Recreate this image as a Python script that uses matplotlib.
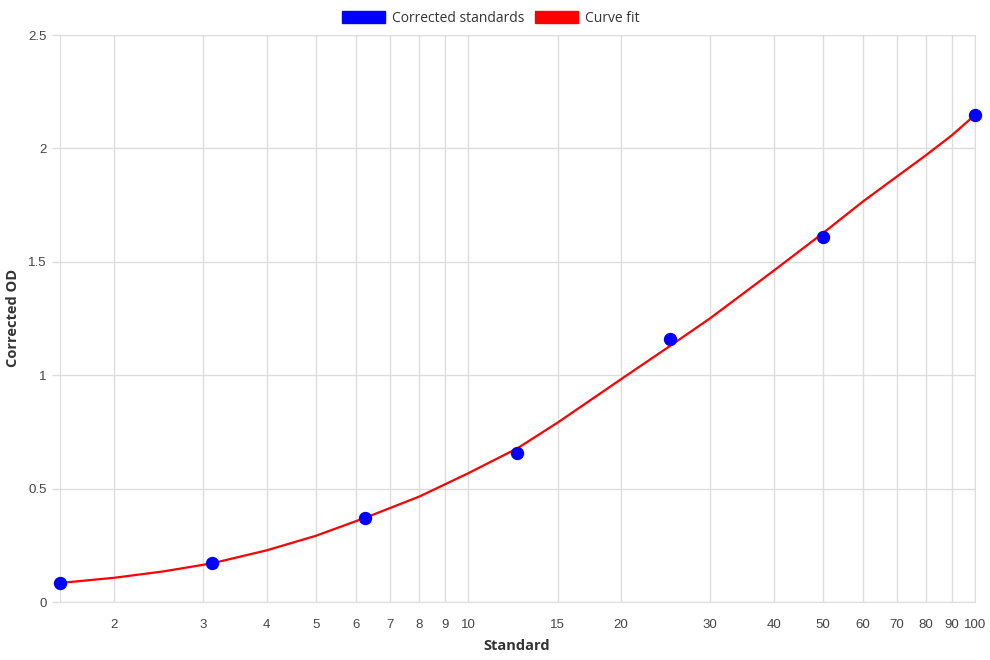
import matplotlib.pyplot as plt
from matplotlib.patches import Patch
from matplotlib.ticker import FixedLocator, NullLocator

# measured standards (blue points)
standard = [1.5625, 3.125, 6.25, 12.5, 25, 50, 100]
corrected_od = [0.084, 0.175, 0.373, 0.658, 1.159, 1.611, 2.149]

# curve fit
fit_x = [1.5625, 2, 2.5, 3.125, 4, 5, 6.25, 8, 10, 12.5, 15, 20, 25, 30, 40, 50, 60, 70, 80, 90, 100]
fit_y = [0.085, 0.108, 0.136, 0.172, 0.229, 0.293, 0.372, 0.466, 0.569, 0.679, 0.792, 0.983,
         1.130, 1.252, 1.461, 1.626, 1.766, 1.876, 1.971, 2.059, 2.149]

x_ticks = [2, 3, 4, 5, 6, 7, 8, 9, 10, 15, 20, 30, 40, 50, 60, 70, 80, 90, 100]
y_ticks = [0, 0.5, 1, 1.5, 2, 2.5]
y_tick_labels = ['0', '0.5', '1', '1.5', '2', '2.5']

grid_col = '#dddddd'
tick_col = '#444444'
title_font = 'Open Sans'

fig = plt.figure(figsize=(9.9, 6.6), dpi=100)
ax = fig.add_axes([59.7 / 990, 1 - 602.3 / 660, (975.3 - 59.7) / 990, (602.3 - 35) / 660])

ax.set_xscale('log')
ax.set_xlim(1.5625, 100)
ax.set_ylim(0, 2.5)

ax.plot(fit_x, fit_y, color='#ff0000', lw=1.6, zorder=3, clip_on=False,
        solid_joinstyle='round')
ax.plot(standard, corrected_od, 'o', color='#0000ff', markersize=8.6, zorder=4, clip_on=False)

ax.xaxis.set_major_locator(FixedLocator(x_ticks))
ax.xaxis.set_minor_locator(NullLocator())
ax.set_xticklabels([str(t) for t in x_ticks])
ax.set_yticks(y_ticks)
ax.set_yticklabels(y_tick_labels)

ax.grid(True, color=grid_col, lw=1)
ax.set_axisbelow(True)
for s in ax.spines.values():
    s.set_color(grid_col)

ax.tick_params(axis='x', length=0, pad=12, labelsize=9.5, labelcolor=tick_col)
ax.tick_params(axis='y', length=5.8, width=1, color=grid_col, pad=3.5, labelsize=9.5, labelcolor=tick_col)
for lab in ax.get_xticklabels() + ax.get_yticklabels():
    lab.set_family('Liberation Sans')

fig.text(517 / 990, 1 - 646 / 660, 'Standard', ha='center', va='center',
         fontsize=10.5, fontweight='bold', color='#333333', family=title_font)
fig.text(13 / 990, 1 - 318 / 660, 'Corrected OD', ha='center', va='center', rotation=90,
         fontsize=10.5, fontweight='bold', color='#333333', family=title_font)

handles = [Patch(facecolor='#0000ff', edgecolor='#0000ff', label='Corrected standards'),
           Patch(facecolor='#ff0000', edgecolor='#ff0000', label='Curve fit')]
fig.legend(handles=handles, loc='center', bbox_to_anchor=(491 / 990, 1 - 18 / 660), ncol=2,
           frameon=False, handlelength=3.1, handleheight=1.0, handletextpad=0.5,
           columnspacing=0.8, prop={'family': title_font, 'size': 10}, labelcolor='#333333')

fig.savefig('out.png', dpi=100)
